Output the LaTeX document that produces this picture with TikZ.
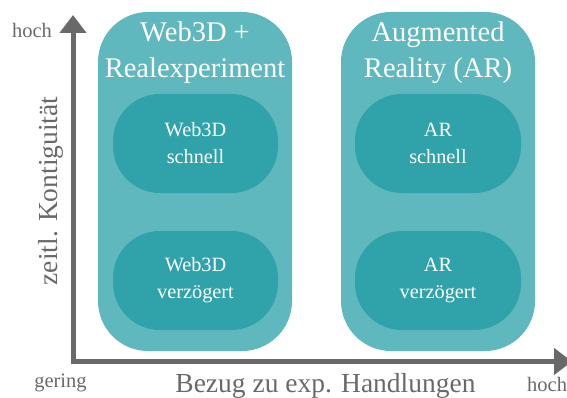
\documentclass[tikz,border=0pt]{standalone}
\usepackage{fontspec}
\setmainfont{Liberation Serif}
\usetikzlibrary{arrows.meta}
\definecolor{outerteal}{HTML}{5FB8BD}
\definecolor{innerteal}{HTML}{30A2AA}
\definecolor{axisgray}{HTML}{696969}
\begin{document}
\begin{tikzpicture}[x=1pt,y=1pt,
  outerbox/.style={fill=outerteal,draw=none,rounded corners=50pt,inner sep=0pt},
  innerbox/.style={fill=innerteal,draw=none,rounded corners=47pt,inner sep=0pt,
    text=white,align=center,font=\fontsize{20.3}{27}\selectfont},
  titletext/.style={text=white,align=center,inner sep=0pt,font=\fontsize{28.5}{36}\selectfont},
  smalllabel/.style={text=axisgray,inner sep=0pt,font=\fontsize{20.5}{24}\selectfont},
  biglabel/.style={text=axisgray,inner sep=0pt,font=\fontsize{27.5}{32}\selectfont},
  axisline/.style={draw=axisgray,line width=5pt,line join=miter,
    arrows={Triangle[width=26pt,length=18pt]-Triangle[width=26pt,length=18pt]}}
]
\useasboundingbox (0,0) rectangle (567,397);
% outer boxes
\node[outerbox,minimum width=194pt,minimum height=339pt] (lbox) at (195,215.5) {};
\node[outerbox,minimum width=194pt,minimum height=339pt] (rbox) at (438,215.5) {};
% titles
\node[titletext,anchor=base] (ltitle) at (195,319) {Web3D +\\Realexperiment};
\node[titletext,anchor=base] (rtitle) at (438,319) {Augmented\\Reality (AR)};
% inner boxes
\node[innerbox,minimum width=165pt,minimum height=99pt] (lfast) at (195.5,253.5) {Web3D\\schnell};
\node[innerbox,minimum width=165pt,minimum height=99pt] (lslow) at (195.5,116.5) {Web3D\\verzögert};
\node[innerbox,minimum width=166pt,minimum height=99pt] (rfast) at (438,253.5) {AR\\schnell};
\node[innerbox,minimum width=166pt,minimum height=99pt] (rslow) at (438,116.5) {AR\\verzögert};
% axes
\coordinate (ytip) at (73,382);
\coordinate (xtip) at (572,35.5);
\draw[axisline] (ytip) |- (xtip);
% axis labels
\node[smalllabel,anchor=base] (yhigh) at (32,359) {hoch};
\node[smalllabel,anchor=base] (low) at (60.5,10) {gering};
\node[smalllabel,anchor=base west] (xhigh) at (527,6) {hoch};
\node[biglabel,anchor=base] (xlabel) at (325.5,5) {Bezug zu exp. Handlungen};
\node[biglabel,anchor=base,rotate=90] (ylabel) at (57,206) {zeitl. Kontiguität};
\end{tikzpicture}
\end{document}
